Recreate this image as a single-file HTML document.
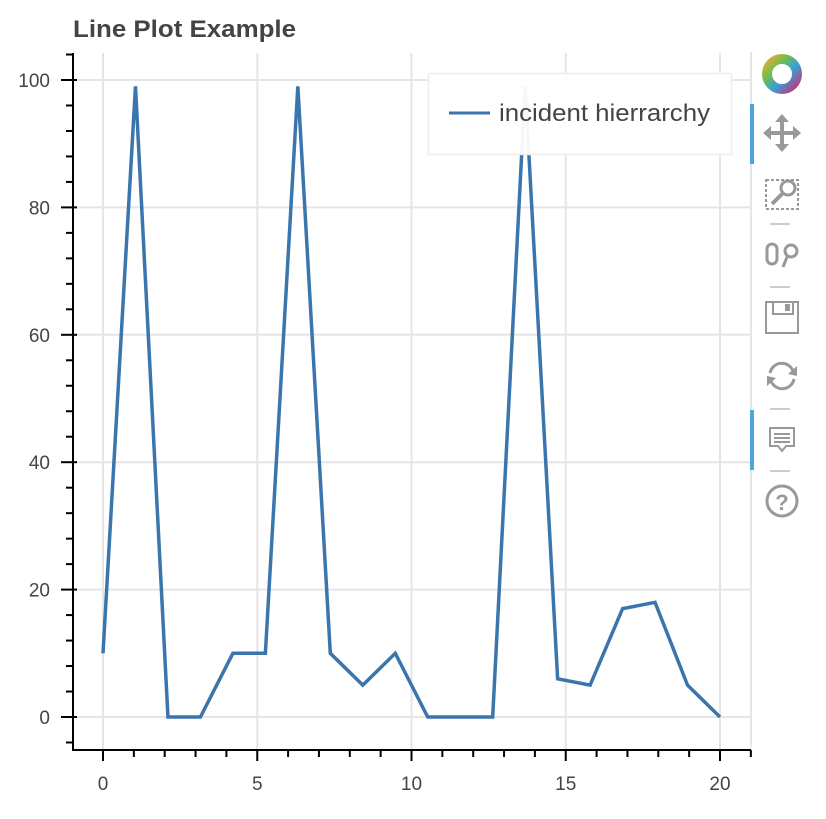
<!DOCTYPE html>
<html><head><meta charset="utf-8"><style>
body{margin:0;background:#fff;width:826px;height:814px;overflow:hidden;font-family:"Liberation Sans",sans-serif}
</style></head><body>
<svg width="826" height="814" xmlns="http://www.w3.org/2000/svg" font-family="Liberation Sans, sans-serif">
<text x="73" y="37" font-size="24" font-weight="bold" textLength="223" lengthAdjust="spacingAndGlyphs" fill="#444">Line Plot Example</text>
<g id="grid"></g>
<g id="axes"></g>
<g id="series"></g>
<g>
<rect x="428.5" y="73.5" width="303" height="81" fill="#fff" fill-opacity="0.95" stroke="#eee" stroke-width="1.5"/>
<line x1="449" y1="113" x2="490" y2="113" stroke="#3a75ad" stroke-width="3"/>
<text x="499" y="121" font-size="24" textLength="211" lengthAdjust="spacingAndGlyphs" fill="#444">incident hierrarchy</text>
</g>
<g>
<line x1="751" y1="52" x2="751" y2="747" stroke="#e5e5e5" stroke-width="2"/>
<rect x="750" y="104" width="4" height="60" fill="#4ba5dc"/>
<rect x="750" y="410" width="4" height="60" fill="#4ba5dc"/>
<g transform="translate(782,74)">
<circle r="15" fill="none" stroke="url(#lg)" stroke-width="10"/>
<defs><linearGradient id="lg" x1="0" y1="0" x2="1" y2="1"><stop offset="0" stop-color="#e8a93a"/><stop offset="0.3" stop-color="#6cbf4f"/><stop offset="0.6" stop-color="#3aa0d8"/><stop offset="1" stop-color="#c4347a"/></linearGradient></defs>
</g>
<g fill="#999" stroke="#999">
<line x1="766" y1="133" x2="798" y2="133" stroke-width="4"/><line x1="782" y1="117" x2="782" y2="149" stroke-width="4"/>
<polygon points="782,114 775,122 789,122" stroke="none"/><polygon points="782,152 775,144 789,144" stroke="none"/>
<polygon points="763,133 771,126 771,140" stroke="none"/><polygon points="801,133 793,126 793,140" stroke="none"/>
</g>
<g fill="none" stroke="#999" stroke-width="2">
<rect x="766" y="180" width="32" height="29" stroke-dasharray="3,2"/>
<circle cx="788" cy="188" r="7" stroke-width="3"/><line x1="783" y1="193" x2="772" y2="204" stroke-width="4"/>
</g>
<line x1="770" y1="224" x2="790" y2="224" stroke="#ccc" stroke-width="2"/>
<g fill="none" stroke="#999" stroke-width="3">
<rect x="767" y="244" width="10" height="20" rx="5"/><circle cx="791" cy="251" r="6"/><line x1="787" y1="257" x2="783" y2="267"/>
</g>
<line x1="770" y1="287" x2="790" y2="287" stroke="#ccc" stroke-width="2"/>
<g fill="none" stroke="#999" stroke-width="2">
<rect x="766" y="302" width="32" height="31"/><rect x="773" y="302" width="20" height="12"/><rect x="786" y="305" width="3" height="5" fill="#999"/>
</g>
<g fill="none" stroke="#999" stroke-width="3">
<path d="M770,373 A12,12 0 0 1 793,371"/><path d="M794,379 A12,12 0 0 1 771,381"/>
<polygon points="797,366 797,376 788,374" fill="#999" stroke="none"/><polygon points="767,386 767,376 776,378" fill="#999" stroke="none"/>
</g>
<line x1="770" y1="409" x2="790" y2="409" stroke="#ccc" stroke-width="2"/>
<g fill="none" stroke="#999" stroke-width="2">
<path d="M770,428 h24 v18 h-8 l-4,5 l-4,-5 h-8 z"/><line x1="774" y1="434" x2="790" y2="434"/><line x1="774" y1="438" x2="790" y2="438"/><line x1="774" y1="442" x2="790" y2="442"/>
</g>
<line x1="770" y1="471" x2="790" y2="471" stroke="#ccc" stroke-width="2"/>
<g>
<circle cx="782" cy="501" r="15" fill="none" stroke="#999" stroke-width="3"/>
<text x="782" y="510" text-anchor="middle" font-size="22" font-weight="bold" fill="#999">?</text>
</g>
</g>
</svg>
<script>
const xValues=[0,1.0526,2.1053,3.1579,4.2105,5.2632,6.3158,7.3684,8.4211,9.4737,10.5263,11.5789,12.6316,13.6842,14.7368,15.7895,16.8421,17.8947,18.9474,20];
const yValues=[10,99,0,0,10,10,99,10,5,10,0,0,0,99,6,5,17,18,5,0];
const xTicks=[0,5,10,15,20];
const yTicks=[0,20,40,60,80,100];
const NS='http://www.w3.org/2000/svg';
const L=73,R=751,T=53,B=750;
const sx=v=>103+(v)*(720-103)/20;
const sy=v=>717-(v)*(717-80)/100;
function mk(p,tag,a){const e=document.createElementNS(NS,tag);for(const k in a)e.setAttribute(k,a[k]);p.appendChild(e);return e;}
const grid=document.getElementById('grid'),axes=document.getElementById('axes'),series=document.getElementById('series');
xTicks.forEach(t=>{const g=mk(grid,'line',{x1:sx(t),x2:sx(t),y1:T,y2:B,stroke:'#e5e5e5','stroke-width':2});

});
yTicks.forEach(t=>{const g=mk(grid,'line',{x1:L,x2:R,y1:sy(t),y2:sy(t),stroke:'#e5e5e5','stroke-width':2});

});
mk(axes,'line',{x1:L,x2:L,y1:T,y2:B,stroke:'#000','stroke-width':2});
mk(axes,'line',{x1:L-1,x2:R,y1:B,y2:B,stroke:'#000','stroke-width':2});
for(let v=-4;v<=104;v+=4){const y=sy(v);if(y<T||y>B)continue;const major=v%20===0;
mk(axes,'line',{x1:L-(major?12:7),x2:L+(major?4:0),y1:y,y2:y,stroke:'#000','stroke-width':2});}
for(let v=-1;v<=21;v++){const x=sx(v);if(x<L||x>R)continue;const major=v%5===0;
mk(axes,'line',{x1:x,x2:x,y1:B,y2:B+(major?11:7),stroke:'#000','stroke-width':2});}
yTicks.forEach(t=>{const e=mk(axes,'text',{x:L-23,y:sy(t)+7,'text-anchor':'end','font-size':19,fill:'#444'});e.textContent=t;

});
xTicks.forEach(t=>{const e=mk(axes,'text',{x:sx(t),y:790,'text-anchor':'middle','font-size':19,fill:'#444'});e.textContent=t;

});
const pl=mk(series,'polyline',{points:xValues.map((x,i)=>sx(x)+','+sy(yValues[i])).join(' '),fill:'none',stroke:'#3a75ad','stroke-width':3.5,'stroke-linejoin':'miter'});


</script>
</body></html>
